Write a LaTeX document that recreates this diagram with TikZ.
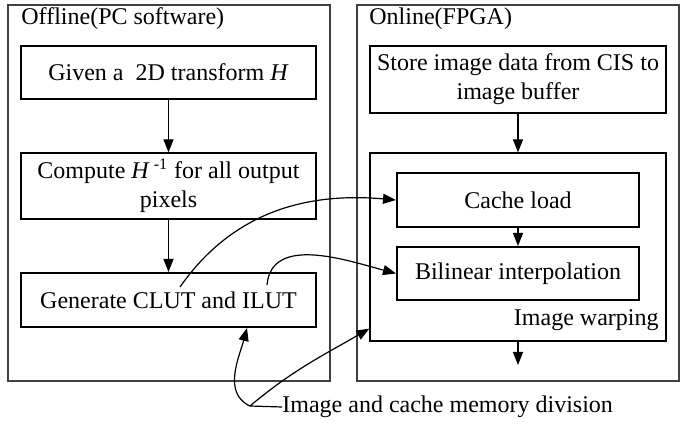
\documentclass[tikz,border=0pt]{standalone}
\usepackage{fontspec}
\setmainfont{Liberation Serif}
\usetikzlibrary{arrows.meta,calc}

\begin{document}
\begin{tikzpicture}[x=0.5pt,y=0.5pt,
  box/.style={draw,line width=0.6pt,inner sep=0pt,align=center,font=\fontsize{12}{14.5}\selectfont},
  thickbox/.style={box,line width=1pt},
  frame/.style={draw=black!75,line width=0.8pt},
  arr/.style={-{Triangle[length=6.5pt,width=5pt]},line width=0.6pt},
  lbl/.style={inner sep=0pt,font=\fontsize{12}{14.5}\selectfont}]
\useasboundingbox (0,0) rectangle (687,445);

% the two halves
\node[frame,minimum width=161pt,minimum height=188pt] (offbox) at (169,252) {};
\node[frame,minimum width=161pt,minimum height=188pt] (onbox) at (518,252) {};
\node[lbl,anchor=west] (offline) at (21,426) {Offline(PC software)};
\node[lbl,anchor=west] (online) at (369,426) {Online(FPGA)};

% offline steps
\node[box,minimum width=147.5pt,minimum height=26.5pt] (given) at (168.5,372.5) {Given a\ \ 2D transform \textit{H}};
\node[box,minimum width=147.5pt,minimum height=33pt] (inv) at (168.5,259) {Compute \textit{H}\,\textsuperscript{-1} for all output\\pixels};
\node[thickbox,minimum width=147.5pt,minimum height=27pt] (gen) at (168.5,145) {Generate CLUT and ILUT};

% online steps
\node[box,minimum width=148pt,minimum height=33.5pt] (store) at (518,365.5) {Store image data from CIS to\\image buffer};
\node[box,minimum width=148pt,minimum height=94pt] (warp) at (518,198) {};
\node[thickbox,minimum width=121pt,minimum height=27pt] (cache) at (518,245) {Cache load};
\node[thickbox,minimum width=121pt,minimum height=26.5pt] (bil) at (518,171.5) {Bilinear interpolation};
\node[lbl,anchor=east] (warplbl) at (659,125) {Image warping};
\coordinate (out) at (518,80);

\draw[arr] (given) -- (inv);
\draw[arr] (inv) -- (gen);
\draw[arr] (store) -- (warp);
\draw[arr] (cache) -- (bil);
\draw[arr] (warp) -- (out);

% tables into the FPGA
\coordinate (c1) at (180,158);
\coordinate (c2) at (267,160);
\draw[arr] (c1) to[out=55,in=175] (cache.west);
\draw[arr] (c2) to[out=85,in=165] (bil.west);

% memory division
\node[lbl,anchor=west] (mem) at (282,38) {Image and cache memory division};
\coordinate (split) at (250,39);
\draw[arr] (mem.west) -- (split) to[out=155,in=255] ($(gen.south)+(78.5,0)$);
\draw[arr] (split) to[out=40,in=210] ($(warp.south west)+(0,13)$);
\end{tikzpicture}
\end{document}
